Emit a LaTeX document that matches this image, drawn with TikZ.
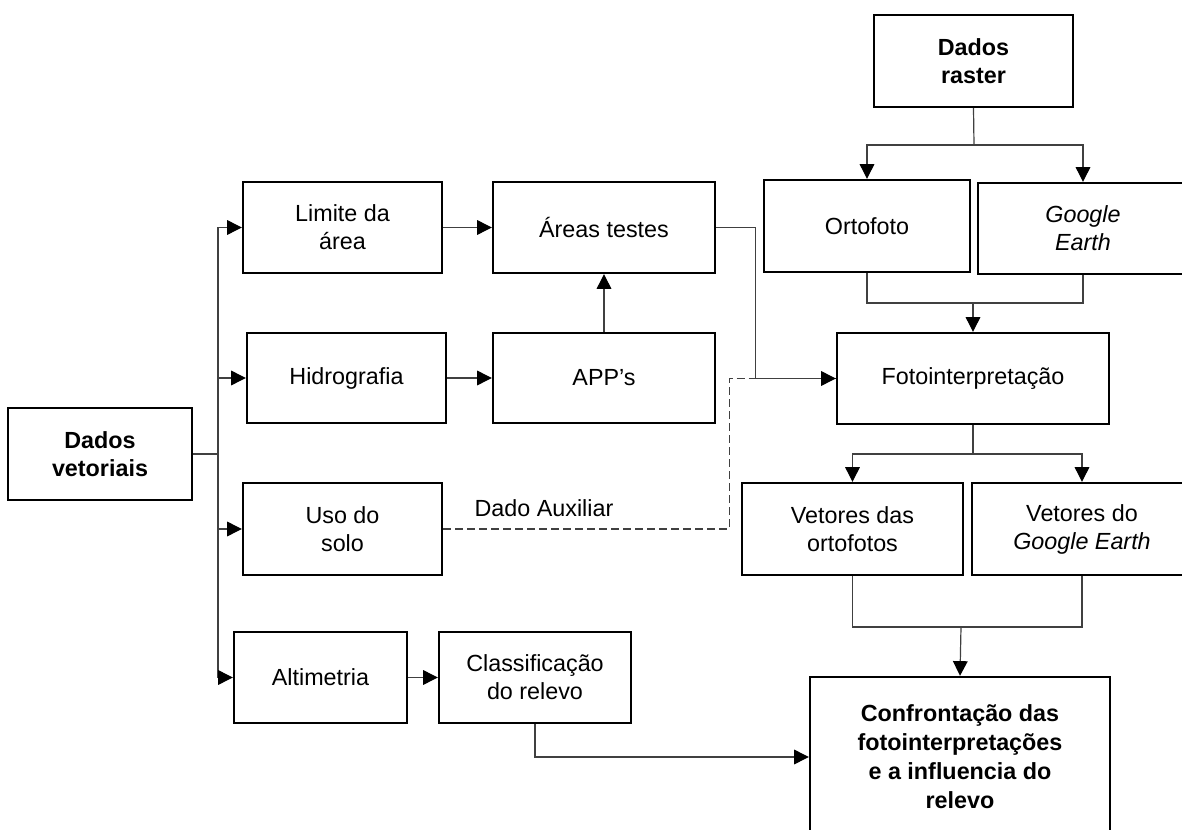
\documentclass[tikz,border=0pt]{standalone}
\usepackage{fontspec}
\setmainfont{Liberation Sans}
\usetikzlibrary{arrows.meta}
\begin{document}
\begin{tikzpicture}[x=0.75pt,y=-0.75pt,
  box/.style={draw=black,line width=1.8pt,fill=white,minimum width=#1*0.75pt,align=center,
    inner sep=0pt,font=\fontsize{17.5}{21}\selectfont},
  box/.default=199,
  conn/.style={draw=black!75,line width=0.9pt},
  arr/.style={conn,-{Triangle[length=11pt,width=11pt,fill=black,color=black]}},
  dashconn/.style={conn,dash pattern=on 6pt off 3pt}
]
\useasboundingbox (0,0) rectangle (1182,830);
\clip (0,0) rectangle (1182,830);

% coordinates
\coordinate (t) at (218,454);
\coordinate (rj) at (974,145);
\coordinate (m1) at (973,303);
\coordinate (fj) at (973,454);
\coordinate (vj) at (961,627);

% nodes
\node[box=184,minimum height=92*0.75pt,font=\fontsize{17.5}{21}\selectfont\bfseries] (dv) at (100,454) {Dados\\vetoriais};
\node[box=199,minimum height=91*0.75pt] (lim) at (342.5,227.5) {Limite da\\área};
\node[box=199,minimum height=90*0.75pt] (hid) at (346.5,378) {Hidrografia};
\node[box=199,minimum height=92*0.75pt] (uso) at (342.5,529) {Uso do\\solo};
\node[box=173,minimum height=91*0.75pt] (alt) at (320.5,677.5) {Altimetria};
\node[box=192,minimum height=91*0.75pt] (cls) at (535,677.5) {Classificação\\do relevo};
\node[box=222,minimum height=91*0.75pt] (are) at (604,227.5) {Áreas testes};
\node[box=222,minimum height=90*0.75pt] (app) at (604,378) {APP’s};
\node[box=199,minimum height=92*0.75pt,font=\fontsize{17.5}{21}\selectfont\bfseries] (dr) at (973.5,61) {Dados\\raster};
\node[box=206,minimum height=92*0.75pt] (ort) at (867,226) {Ortofoto};
\node[box=210,minimum height=91*0.75pt] (ge) at (1083,228.5) {\itshape Google\\\itshape Earth};
\node[box=272,minimum height=91*0.75pt] (foto) at (973,378.5) {Fotointerpretação};
\node[box=221,minimum height=92*0.75pt] (vo) at (852.5,529) {Vetores das\\ortofotos};
\node[box=220,minimum height=92*0.75pt] (vg) at (1082,529) {Vetores do\\\itshape Google Earth};
\node[box=300,minimum height=160*0.75pt,font=\fontsize{17.5}{21.8}\selectfont\bfseries] (conf) at (960,757)
  {Confrontação das\\fotointerpretações\\e a influencia do\\relevo};
\node[font=\fontsize{17.5}{21}\selectfont] (lab) at (544,508) {Dado Auxiliar};

% connectors
\draw[conn] (dv.east) -- (t);
\draw[arr] (t) |- (lim.west);
\draw[arr] (t) |- (hid.west);
\draw[arr] (t) |- (uso.west);
\draw[arr] (t) |- (alt.west);
\draw[arr] (lim.east) -- (are.west);
\draw[arr] (hid.east) -- (app.west);
\draw[arr] (app.north) -- (are.south);
\draw[arr] (alt.east) -- (cls.west);
\draw[arr] (cls.south) |- (conf.west);
\draw[dashconn] (uso.east) -- ++(286,0) |- (foto.west);
\draw[arr] (are.east) -- ++(39,0) |- (foto.west);
\draw[conn] (dr.south) -- (rj);
\draw[arr] (rj) -| (ort.north);
\draw[arr] (rj) -| (ge.north);
\draw[conn] (ort.south) |- (m1);
\draw[conn] (ge.south) |- (m1);
\draw[arr] (m1) -- (foto.north);
\draw[conn] (foto.south) -- (fj);
\draw[arr] (fj) -| (vo.north);
\draw[arr] (fj) -| (vg.north);
\draw[conn] (vo.south) |- (vj);
\draw[conn] (vg.south) |- (vj);
\draw[arr] (vj) -- (conf.north);
\end{tikzpicture}
\end{document}
